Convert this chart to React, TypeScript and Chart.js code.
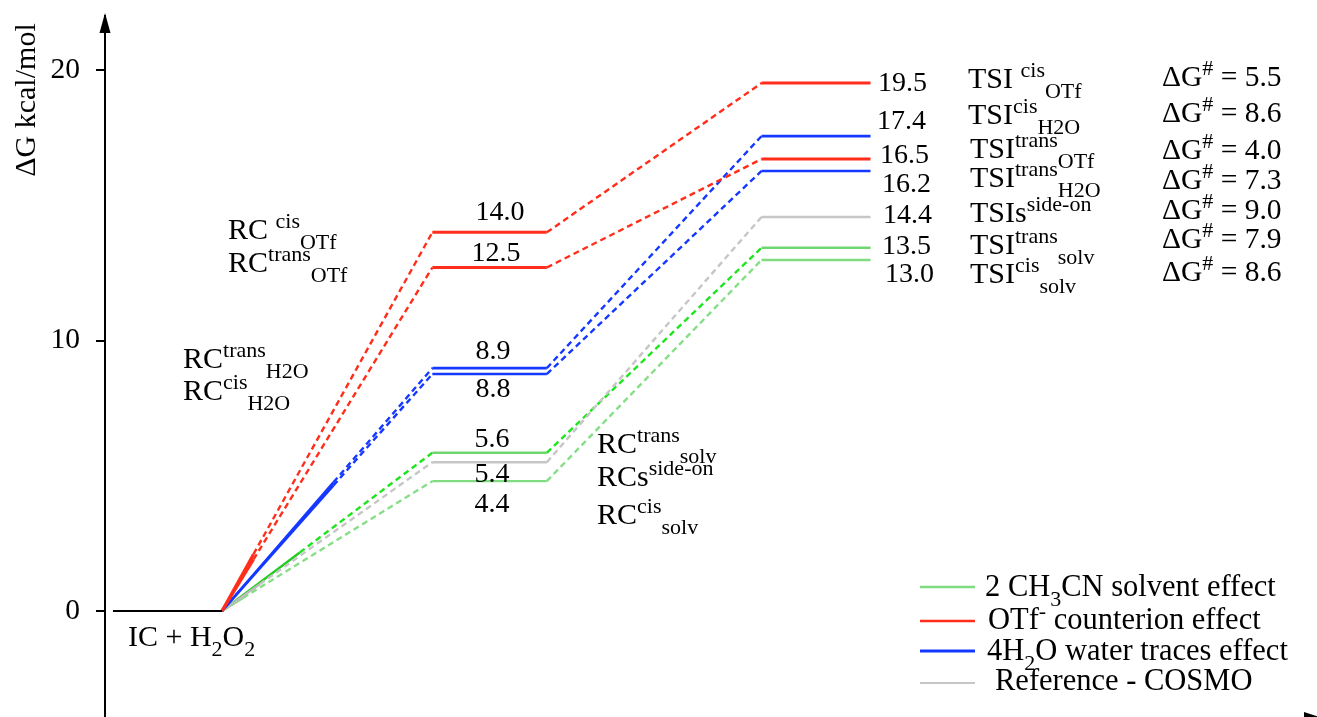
import React, { useEffect, useRef } from "react";
import { Chart, registerables } from "chart.js";

Chart.register(...registerables);

// ---------------- data ----------------
const stageNames = ["IC + H2O2", "RC", "TSI"];
const seriesNames = ["OTf cis", "OTf trans", "H2O a", "H2O b", "COSMO side-on", "solv trans", "solv cis"];
// level positions as drawn (kcal/mol)
const rcValues = [14.0, 12.7, 8.98, 8.76, 5.5, 5.85, 4.8];
const tsValues = [19.52, 16.71, 17.56, 16.27, 14.57, 13.43, 12.98];
// printed numbers
const rcLabels = ["14.0", "12.5", "8.9", "8.8", "5.4", "5.6", "4.4"];
const tsLabels = ["19.5", "17.4", "16.5", "16.2", "14.4", "13.5", "13.0"];
const barrierLabels = ["5.5", "8.6", "4.0", "7.3", "9.0", "7.9", "8.6"];
const yTicks = [0, 10, 20];

// ---------------- styles ----------------
const FONT = '"Liberation Serif", "Times New Roman", serif';
const RED = "#ff2d1a";
const BLUE = "#1438ff";
const GRAY = "#c6c6c6";
const levelColors = [RED, RED, BLUE, BLUE, GRAY, "#70d670", "#80dc80"];
const dashColors = [RED, RED, BLUE, BLUE, GRAY, "#1ee61e", "#86de86"];
const startColors = [RED, RED, BLUE, BLUE, "#bdbdbd", "#22cc22", "#8ad88a"];
const levelWidths = [3, 3, 2.6, 2.6, 2.4, 2.4, 2.4];
const solidFrac = [0.15, 0.15, 0.53, 0.53, 0.18, 0.37, 0.1];
const X_IC = [0, 1];
const X_RC = [2.93, 3.98];
const X_TS = [5.95, 6.95];

type Part = [string, number]; // 0 normal, 1 sup, 2 sub

function drawRich(
  ctx: CanvasRenderingContext2D,
  parts: Part[],
  x: number,
  yc: number,
  size: number,
  align: string = "left",
  smallSize: number = 0
) {
  const small = smallSize || Math.round(size * 0.72);
  let w = 0;
  for (const [t, k] of parts) {
    ctx.font = `${k === 0 ? size : small}px ${FONT}`;
    w += ctx.measureText(t).width;
  }
  let cx = align === "center" ? x - w / 2 : x;
  const base = yc + size * 0.33;
  ctx.textAlign = "left";
  ctx.textBaseline = "alphabetic";
  for (const [t, k] of parts) {
    ctx.font = `${k === 0 ? size : small}px ${FONT}`;
    const y = base + (k === 1 ? -size * 0.36 : k === 2 ? size * 0.32 : 0);
    ctx.fillText(t, cx, y);
    cx += ctx.measureText(t).width;
  }
}

const rcLabelPos = [
  [500, 211], [496, 252], [493, 350], [493, 388], [492, 473], [492, 438], [492, 503],
];
const tsLabelPos = [
  [878, 82], [877, 120], [880, 154], [882, 183], [883, 214], [882, 245], [885, 273],
];
const tsNames: Part[][] = [
  [["TSI ", 0], ["cis", 1], ["OTf", 2]],
  [["TSI", 0], ["cis", 1], ["H2O", 2]],
  [["TSI", 0], ["trans", 1], ["OTf", 2]],
  [["TSI", 0], ["trans", 1], ["H2O", 2]],
  [["TSIs", 0], ["side-on", 1]],
  [["TSI", 0], ["trans", 1], ["solv", 2]],
  [["TSI", 0], ["cis", 1], ["solv", 2]],
];
const tsNamePos = [
  [968, 78], [968, 114], [970, 148], [970, 177], [970, 212], [970, 244], [970, 273],
];
const barrierY = [76, 112, 149, 179, 209, 238, 271];
const rcNames: { p: Part[]; x: number; y: number }[] = [
  { p: [["RC ", 0], ["cis", 1], ["OTf", 2]], x: 228, y: 229 },
  { p: [["RC", 0], ["trans", 1], ["OTf", 2]], x: 228, y: 262 },
  { p: [["RC", 0], ["trans", 1], ["H2O", 2]], x: 183, y: 358 },
  { p: [["RC", 0], ["cis", 1], ["H2O", 2]], x: 183, y: 390 },
  { p: [["RC", 0], ["trans", 1], ["solv", 2]], x: 597, y: 443 },
  { p: [["RCs", 0], ["side-on", 1]], x: 597, y: 476 },
  { p: [["RC", 0], ["cis", 1], ["solv", 2]], x: 597, y: 514 },
  { p: [["IC + H", 0], ["2", 2], ["O", 0], ["2", 2]], x: 128, y: 636 },
];
const legendItems: { p: Part[]; color: string; w: number; tx: number; ly: number; ty: number }[] = [
  { p: [["2 CH", 0], ["3", 2], ["CN solvent effect", 0]], color: "#80dc80", w: 2.4, tx: 985, ly: 587, ty: 586 },
  { p: [["OTf", 0], ["-", 1], [" counterion effect", 0]], color: RED, w: 2.6, tx: 988, ly: 621, ty: 619 },
  { p: [["4H", 0], ["2", 2], ["O water traces effect", 0]], color: BLUE, w: 3, tx: 987, ly: 651, ty: 650 },
  { p: [["Reference - COSMO", 0]], color: GRAY, w: 2.2, tx: 995, ly: 683, ty: 680 },
];

function seriesPoints(i: number) {
  const f = solidFrac[i];
  const rc = rcValues[i];
  const ts = tsValues[i];
  return [
    { x: X_IC[1], y: 0 },
    { x: X_IC[1] + f * (X_RC[0] - X_IC[1]), y: f * rc },
    { x: X_RC[0], y: rc },
    { x: X_RC[1], y: rc },
    { x: X_TS[0], y: ts },
    { x: X_TS[1], y: ts },
  ];
}

const overlayPlugin = {
  id: "overlay",
  afterDraw(chart: any) {
    const ctx: CanvasRenderingContext2D = chart.ctx;
    const area = chart.chartArea;
    ctx.save();
    ctx.fillStyle = "#000";
    // y-axis arrow
    const ax = area.left;
    ctx.beginPath();
    ctx.moveTo(ax, area.top - 3);
    ctx.lineTo(ax - 5.5, area.top + 17);
    ctx.lineTo(ax + 5.5, area.top + 17);
    ctx.closePath();
    ctx.fill();
    // x-axis arrow (mostly below the visible area)
    const by = area.bottom + 1;
    ctx.beginPath();
    ctx.moveTo(1326, by + 1);
    ctx.lineTo(1304, by - 6);
    ctx.lineTo(1304, by + 8);
    ctx.closePath();
    ctx.fill();
    // y-axis title
    ctx.save();
    ctx.translate(27, 100);
    ctx.rotate(-Math.PI / 2);
    ctx.font = `30px ${FONT}`;
    ctx.textAlign = "center";
    ctx.textBaseline = "middle";
    ctx.fillText("\u0394G kcal/mol", 0, 0);
    ctx.restore();

    ctx.fillStyle = "#000";
    rcLabels.forEach((t, i) => drawRich(ctx, [[t, 0]], rcLabelPos[i][0], rcLabelPos[i][1], 28, "center"));
    tsLabels.forEach((t, i) => drawRich(ctx, [[t, 0]], tsLabelPos[i][0], tsLabelPos[i][1], 28));
    tsNames.forEach((p, i) => drawRich(ctx, p, tsNamePos[i][0], tsNamePos[i][1], 30, "left", 22));
    barrierLabels.forEach((t, i) =>
      drawRich(ctx, [["\u0394G", 0], ["#", 1], [" = " + t, 0]], 1162, barrierY[i], 29.5, "left", 22)
    );
    rcNames.forEach((r) => drawRich(ctx, r.p, r.x, r.y, 30, "left", 22));

    legendItems.forEach((l) => {
      ctx.strokeStyle = l.color;
      ctx.lineWidth = l.w;
      ctx.setLineDash([]);
      ctx.beginPath();
      ctx.moveTo(920, l.ly);
      ctx.lineTo(975, l.ly);
      ctx.stroke();
      ctx.fillStyle = "#000";
      drawRich(ctx, l.p, l.tx, l.ty, 30.5, "left", 22);
    });
    ctx.restore();
  },
};

export default function App() {
  const ref = useRef<HTMLCanvasElement | null>(null);
  useEffect(() => {
    if (!ref.current) return;
    const datasets: any[] = [
      {
        label: stageNames[0],
        data: [{ x: X_IC[0], y: 0 }, { x: X_IC[1], y: 0 }],
        borderColor: "#000",
        borderWidth: 2,
        pointRadius: 0,
      },
    ];
    seriesNames.forEach((name, i) => {
      datasets.push({
        label: name,
        data: seriesPoints(i),
        borderColor: levelColors[i],
        borderWidth: levelWidths[i],
        pointRadius: 0,
        borderCapStyle: "butt",
        segment: {
          borderDash: (c: any) => (c.p0DataIndex === 1 || c.p0DataIndex === 3 ? [6, 4] : []),
          borderColor: (c: any) =>
            c.p0DataIndex === 0 ? startColors[i] : c.p0DataIndex === 1 || c.p0DataIndex === 3 ? dashColors[i] : levelColors[i],
          borderWidth: (c: any) => (c.p0DataIndex === 1 || c.p0DataIndex === 3 ? 2.4 : levelWidths[i]),
        },
      });
    });
    const chart = new Chart(ref.current, {
      type: "line",
      data: { datasets },
      options: {
        animation: false,
        responsive: false,
        devicePixelRatio: 1,
        layout: { padding: { top: 16, left: 0, right: 0, bottom: 0 } },
        plugins: { legend: { display: false }, tooltip: { enabled: false } },
        scales: {
          x: { type: "linear", min: -0.073, max: 11.046, display: false },
          y: {
            type: "linear",
            min: -3.92,
            max: 22.0,
            afterFit: (s: any) => {
              s.width = 105;
              s.paddingTop = 0;
              s.paddingBottom = 0;
            },
            afterBuildTicks: (s: any) => {
              s.ticks = yTicks.map((v) => ({ value: v }));
            },
            border: { display: true, color: "#000", width: 2 },
            grid: { drawOnChartArea: false, drawTicks: true, tickLength: 9, color: "#000", lineWidth: 2 },
            ticks: { color: "#000", font: { family: FONT, size: 29.5 }, padding: 16 },
          },
        },
      },
      plugins: [overlayPlugin],
    });
    return () => chart.destroy();
  }, []);
  return (
    <div style={{ position: "fixed", left: 0, top: 0, width: 1317, height: 717, background: "#fff" }}>
      <canvas ref={ref} width={1317} height={717} style={{ display: "block" }} />
    </div>
  );
}
